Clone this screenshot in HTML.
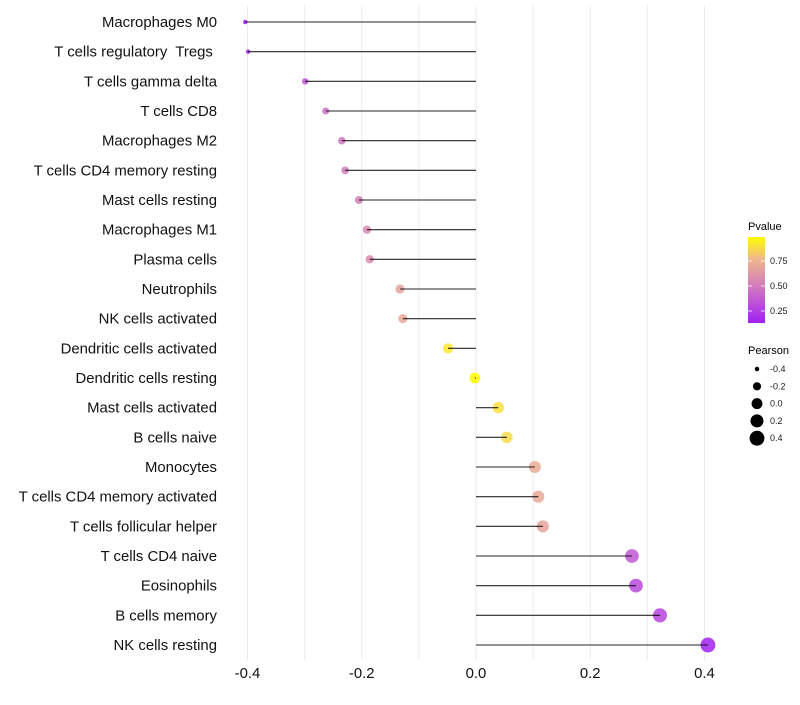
<!DOCTYPE html>
<html><head><meta charset="utf-8">
<style>
body{margin:0;background:#fff;width:800px;height:700px;overflow:hidden;font-family:"Liberation Sans",sans-serif;}
svg text{font-family:"Liberation Sans",sans-serif;white-space:pre;}
</style></head>
<body>
<svg id="chart" width="800" height="700" xmlns="http://www.w3.org/2000/svg">
<defs>
<linearGradient id="pgrad" x1="0" y1="1" x2="0" y2="0">
<stop offset="0" stop-color="#a020f0"/>
<stop offset="0.3" stop-color="#c560cf"/>
<stop offset="0.5" stop-color="#d889b2"/>
<stop offset="0.75" stop-color="#efb88a"/>
<stop offset="1" stop-color="#ffff00"/>
</linearGradient>
</defs>
<g id="grid"></g>
<g id="marks"></g>
<g id="ylabels"></g>
<g id="xlabels"></g>
<g>
<text x="748" y="230" font-size="11" fill="#000">Pvalue</text>
<rect x="748" y="237" width="17" height="86" fill="url(#pgrad)"/>
<g id="pticks"></g>
</g>
<g>
<text x="748" y="354" font-size="11" fill="#000">Pearson</text>
<g id="sizeLegend"></g>
</g>
</svg>
<script>
const categories=["Macrophages M0","T cells regulatory  Tregs ","T cells gamma delta","T cells CD8","Macrophages M2","T cells CD4 memory resting","Mast cells resting","Macrophages M1","Plasma cells","Neutrophils","NK cells activated","Dendritic cells activated","Dendritic cells resting","Mast cells activated","B cells naive","Monocytes","T cells CD4 memory activated","T cells follicular helper","T cells CD4 naive","Eosinophils","B cells memory","NK cells resting"];
const pearson=[-0.404,-0.399,-0.299,-0.263,-0.235,-0.229,-0.205,-0.191,-0.186,-0.133,-0.128,-0.049,-0.002,0.039,0.054,0.103,0.109,0.117,0.273,0.28,0.322,0.406];
const pvalue=[0.13,0.14,0.33,0.45,0.48,0.5,0.52,0.55,0.57,0.68,0.7,0.92,0.99,0.9,0.88,0.72,0.7,0.68,0.35,0.3,0.28,0.14];
const xTicks=[-0.4,-0.2,0.0,0.2,0.4];
const xTickLabels=["-0.4","-0.2","0.0","0.2","0.4"];
const pTicks=[0.25,0.5,0.75];
const pTickLabels=["0.25","0.50","0.75"];
const sizeLevels=[-0.4,-0.2,0.0,0.2,0.4];
const sizeLabels=["-0.4","-0.2","0.0","0.2","0.4"];

const NS="http://www.w3.org/2000/svg";
const x=v=>476+v*571.25;
const y=i=>22+i*29.667;
const pMin=0.13,pMax=0.99;
const r=v=>Math.sqrt(Math.max(5,29.5+64*v));
const stops=[[0,[160,32,240]],[0.3,[197,96,207]],[0.5,[216,137,178]],[0.75,[239,184,138]],[1,[255,255,0]]];
function col(p){let t=(p-pMin)/(pMax-pMin);t=Math.max(0,Math.min(1,t));
for(let k=1;k<stops.length;k++){if(t<=stops[k][0]){const a=stops[k-1],b=stops[k];const f=(t-a[0])/(b[0]-a[0]);
const c=a[1].map((q,j)=>Math.round(q+(b[1][j]-q)*f));return `rgb(${c.join(',')})`;}}return "rgb(255,255,0)";}
function mk(tag,attrs,parent){const e=document.createElementNS(NS,tag);for(const k in attrs)e.setAttribute(k,attrs[k]);parent.appendChild(e);return e;}
const grid=document.getElementById('grid');
for(let v=-0.4;v<=0.451;v+=0.1){
 const g=mk('line',{x1:x(v),x2:x(v),y1:5,y2:660,stroke:'#ebebeb','stroke-width':1},grid);
 
 
}
const marks=document.getElementById('marks');
const yl=document.getElementById('ylabels');
categories.forEach((c,i)=>{
 const cy=y(i);
 const dot=mk('circle',{cx:x(pearson[i]),cy:cy,r:r(pearson[i]),fill:col(pvalue[i]),'fill-opacity':0.85},marks);
 
 
 const ln=mk('line',{x1:x(0),x2:x(pearson[i]),y1:cy,y2:cy,stroke:'#000','stroke-width':1.1,'stroke-opacity':0.85},marks);
 
 
 const t=mk('text',{x:217,y:cy+5,'text-anchor':'end','font-size':14.9,fill:'#111'},yl);
 
 
 t.textContent=c;
});
const xl=document.getElementById('xlabels');
xTicks.forEach((v,i)=>{
 const t=mk('text',{x:x(v),y:678,'text-anchor':'middle','font-size':14.9,fill:'#111'},xl);
 
 
 t.textContent=xTickLabels[i];
});
const pt=document.getElementById('pticks');
const py=p=>323-(p-pMin)/(pMax-pMin)*86;
pTicks.forEach((p,i)=>{
 const l=mk('line',{x1:748,x2:752,y1:py(p),y2:py(p),stroke:'#fff','stroke-width':0.8},pt);
 
 
 const l2=mk('line',{x1:761,x2:765,y1:py(p),y2:py(p),stroke:'#fff','stroke-width':0.8},pt);
 
 
 const t=mk('text',{x:770,y:py(p)+3,'font-size':9,fill:'#1a1a1a'},pt);
 
 
 t.textContent=pTickLabels[i];
});
const sl=document.getElementById('sizeLegend');
sizeLevels.forEach((v,i)=>{
 const cy=369+i*17.3;
 const c=mk('circle',{cx:757,cy:cy,r:r(v),fill:'#000'},sl);
 
 
 const t=mk('text',{x:770,y:cy+3,'font-size':9,fill:'#1a1a1a'},sl);
 
 
 t.textContent=sizeLabels[i];
});
</script>
</body></html>
